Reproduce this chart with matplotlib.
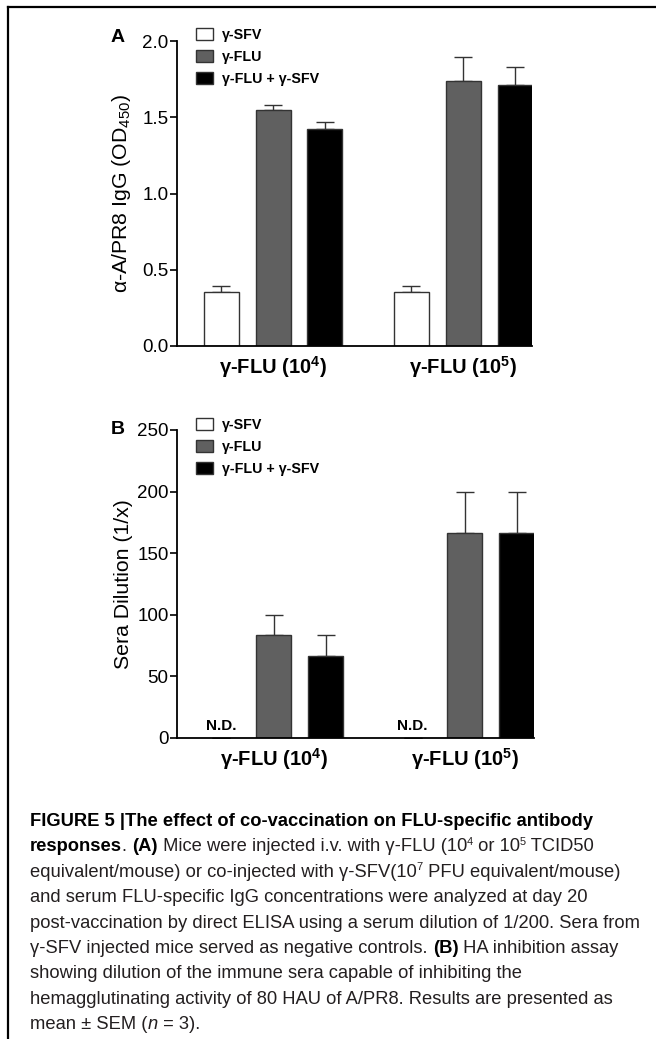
import numpy as np
import matplotlib
matplotlib.use("Agg")
import matplotlib.pyplot as plt
from matplotlib.patches import Patch
from matplotlib.lines import Line2D

plt.rcParams['font.family'] = ['Liberation Sans', 'DejaVu Sans']
plt.rcParams['mathtext.fontset'] = 'custom'
plt.rcParams['mathtext.rm'] = 'Liberation Sans'
plt.rcParams['mathtext.it'] = 'Liberation Sans:italic'
plt.rcParams['mathtext.bf'] = 'Liberation Sans:bold'

# ---- data ----
groups = [r"γ-FLU (10$^{\mathbf{4}}$)", r"γ-FLU (10$^{\mathbf{5}}$)"]
series = ["γ-SFV", "γ-FLU", "γ-FLU + γ-SFV"]
colors = ["white", "#606060", "black"]

# panel A: anti-A/PR8 IgG (OD450)
igg_sfv = [0.355, 0.355]
igg_sfv_err = [0.04, 0.04]
igg_flu = [1.548, 1.739]
igg_flu_err = [0.03, 0.154]
igg_combo = [1.425, 1.712]
igg_combo_err = [0.045, 0.119]

# panel B: HAI titre (1/x); SFV not detected
hai_sfv = [0, 0]
hai_sfv_err = [0, 0]
hai_flu = [83.3, 166.7]
hai_flu_err = [16.7, 33.3]
hai_combo = [66.7, 166.7]
hai_combo_err = [16.7, 33.3]

W, H = 656, 1039
fig = plt.figure(figsize=(W / 100, H / 100), dpi=100)

x = np.arange(len(groups))
offs = [-0.273, 0.0, 0.273]
bw = 0.184


def panel(ax, vals, errs, ylim, yticks, ylabel, letter, letter_y, legend_top, nd=False):
    for i, (v, e) in enumerate(zip(vals, errs)):
        pos = x + offs[i]
        ax.errorbar(pos, v, yerr=[np.zeros(len(e)), e], fmt='none', ecolor='#333333',
                    elinewidth=1.0, capsize=6.5, capthick=1.0, zorder=1)
        if nd and i == 0:
            for p in pos:
                ax.text(p, ylim[1] * 0.026, "N.D.", ha='center', va='baseline',
                        fontsize=11, fontweight='bold')
            continue
        ax.bar(pos, v, width=bw, color=colors[i], edgecolor='#333333', linewidth=1.0, zorder=2)
    ax.set_xlim(-0.505, 1.362)
    ax.set_ylim(*ylim)
    ax.set_yticks(yticks)
    ax.set_xticks(x)
    ax.set_xticklabels(groups, fontsize=14.5, fontweight='bold')
    ax.tick_params(axis='x', length=0, pad=6)
    ax.tick_params(axis='y', length=5, width=1.2, pad=1, labelsize=13.5, direction='out')
    for s in ['top', 'right']:
        ax.spines[s].set_visible(False)
    for s in ['left', 'bottom']:
        ax.spines[s].set_linewidth(1.3)
    ax.set_ylabel(ylabel, fontsize=15.3)
    ax.yaxis.set_label_coords(-0.124, 0.5)
    fig.text(118 / W, 1 - letter_y / H, letter, ha='center', va='center',
             fontsize=14, fontweight='bold')
    handles = [Patch(facecolor=c, edgecolor='#333333', linewidth=1.0) for c in colors]
    ax.legend(handles, series, loc='upper left', frameon=False,
              bbox_to_anchor=(196 / W, 1 - legend_top / H), bbox_transform=fig.transFigure,
              borderpad=0, borderaxespad=0, handlelength=1.2, handleheight=0.9,
              handletextpad=0.6, labelspacing=0.55, prop={'weight': 'bold', 'size': 10.3})


axA = fig.add_axes([177 / W, 1 - 346 / H, 355 / W, 305 / H])
panel(axA, [igg_sfv, igg_flu, igg_combo], [igg_sfv_err, igg_flu_err, igg_combo_err],
      (0, 2.0), [0.0, 0.5, 1.0, 1.5, 2.0], r"α-A/PR8 IgG (OD$_{450}$)", "A", 38, 28)
axA.set_yticklabels(["0.0", "0.5", "1.0", "1.5", "2.0"])

axB = fig.add_axes([177 / W, 1 - 738 / H, 357 / W, 308 / H])
panel(axB, [hai_sfv, hai_flu, hai_combo], [hai_sfv_err, hai_flu_err, hai_combo_err],
      (0, 250), [0, 50, 100, 150, 200, 250], "Sera Dilution (1/x)", "B", 430, 418, nd=True)

# frame lines around the figure (left and top only)
fig.add_artist(Line2D([8 / W, 8 / W], [0, 1 - 7 / H], color='black', lw=1.6,
                      transform=fig.transFigure))
fig.add_artist(Line2D([8 / W, 1], [1 - 7 / H, 1 - 7 / H], color='black', lw=1.6,
                      transform=fig.transFigure))

# ---- caption ----
cap_lines = [
    [("FIGURE 5 |The effect of co-vaccination on FLU-specific antibody", 'b')],
    [("responses", 'b'), (". ", 'r'), ("(A)", 'b'), (" Mice were injected i.v. with γ-FLU (10", 'r'),
     ("4", 's'), (" or 10", 'r'), ("5", 's'), (" TCID50", 'r')],
    [("equivalent/mouse) or co-injected with γ-SFV(10", 'r'), ("7", 's'),
     (" PFU equivalent/mouse)", 'r')],
    [("and serum FLU-specific IgG concentrations were analyzed at day 20", 'r')],
    [("post-vaccination by direct ELISA using a serum dilution of 1/200. Sera from", 'r')],
    [("γ-SFV injected mice served as negative controls. ", 'r'), ("(B)", 'b'),
     (" HA inhibition assay", 'r')],
    [("showing dilution of the immune sera capable of inhibiting the", 'r')],
    [("hemagglutinating activity of 80 HAU of A/PR8. Results are presented as", 'r')],
    [("mean ± SEM (", 'r'), ("n", 'i'), (" = 3).", 'r')],
]

renderer = fig.canvas.get_renderer()
probe = fig.text(0, 0, cap_lines[4][0][0], fontsize=12)
cap_size = 12 * 612 / probe.get_window_extent(renderer).width
probe.remove()

x0, base0, step = 30, 826, 25.4
for k, runs in enumerate(cap_lines):
    xp = x0
    yb = base0 + k * step
    for txt, st in runs:
        kw = dict(fontsize=cap_size, color='#231f20', va='baseline', ha='left')
        yy = yb
        if st == 'b':
            kw['fontweight'] = 'bold'
            kw['color'] = 'black'
        elif st == 'i':
            kw['fontstyle'] = 'italic'
        elif st == 's':
            kw['fontsize'] = cap_size * 0.6
            yy = yb - cap_size * 0.5
        t = fig.text(xp / W, 1 - yy / H, txt, **kw)
        xp += t.get_window_extent(renderer).width

fig.savefig("out.png", dpi=100)
